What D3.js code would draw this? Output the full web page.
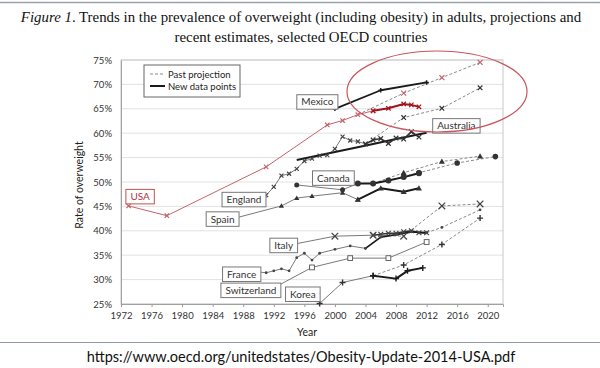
<!DOCTYPE html>
<html><head><meta charset="utf-8">
<script src="https://cdn.jsdelivr.net/npm/d3@7"></script>
<style>body{margin:0;background:#fff}svg{display:block}</style>
</head><body>
<svg id="c" width="600" height="368"></svg>
<script>
// ---- data (year, % overweight) ----
const xTicks = [1972,1976,1980,1984,1988,1992,1996,2000,2004,2008,2012,2016,2020];
const yTicks = [25,30,35,40,45,50,55,60,65,70,75];

const usaPast = [[1973,45.1],[1978,43.1],[1991,53.1],[1999,61.7],[2001,62.6],[2003,63.8],[2005,64.6]];
const usaNew  = [[2005,64.6],[2007,65.1],[2009,66.0],[2010,65.8],[2011,65.4]];
const usaProj = [[2003,63.8],[2009,68.2],[2014,71.4],[2019,74.5]];

const mexicoNew = [[2000,65.0],[2006,68.8],[2012,70.4]];

const englandPast = [[1991,47.3],[1992,49.0],[1993,51.3],[1994,51.7],[1995,52.7],[1996,54.3],[1997,54.8],[1998,55.4],[1999,55.5],[2000,56.8],[2001,59.3],[2002,58.5],[2003,58.3],[2004,57.8]];
const englandNew  = [[2004,57.8],[2005,58.6],[2006,58.9],[2007,57.9],[2008,59.0],[2009,58.8],[2010,60.3],[2011,59.2]];
const englandProj = [[2005,58.9],[2009,63.2],[2014,65.1],[2019,69.3]];

const australiaNew = [[1995,54.5],[2005,57.8],[2008,58.8],[2012,60.1]];

const canadaPast = [[1995,49.4],[2001,48.4],[2003,49.7]];
const canadaNew  = [[2003,49.7],[2005,49.7],[2007,50.3],[2009,51.0],[2011,51.8]];
const canadaProj = [[2007,50.3],[2011,51.9],[2016,53.9],[2021,55.2]];

const spainPast = [[1993,45.1],[1995,46.7],[1997,47.1],[2001,47.8],[2003,46.4]];
const spainNew  = [[2003,46.4],[2006,48.7],[2009,48.0],[2011,48.7]];
const spainProj = [[2005,49.7],[2009,51.9],[2014,54.2],[2019,55.3]];

const italyPast = [[2000,38.9],[2005,39.1]];
const italyNew  = [[2005,39.1],[2006,39.3],[2007,39.5],[2008,39.5],[2009,39.8],[2010,40.0],[2011,39.6],[2012,39.6]];
const italyProj = [[2005,39.1],[2009,38.9],[2014,45.1],[2019,45.5]];

const francePast = [[1991,31.4],[1992,31.8],[1993,32.2],[1994,31.8],[1995,34.5],[1996,35.4],[1997,34.0],[1998,35.4],[2000,36.2],[2002,36.9],[2004,36.4]];
const franceNew  = [[2004,36.4],[2006,38.7],[2008,39.2],[2010,39.8],[2012,39.6]];
const franceProj = [[2012,39.6],[2014,40.7],[2019,44.3]];

const switzerlandPast = [[1997,32.5],[2002,34.4],[2007,34.4],[2012,37.7]];

const koreaPast = [[1998,25.1],[2001,29.4],[2005,30.8]];
const koreaNew  = [[2005,30.8],[2008,30.2],[2009.5,31.8],[2011.5,32.4]];
const koreaProj = [[2005,30.8],[2009,33.0],[2014,37.2],[2019,42.6]];

// label annotations: [text, year, value] (box centre in data space)
const labels = [["USA",1974.5,47.0],["England",1988.1,46.4],["Spain",1985.3,42.4],["Italy",1993.3,37.0],
  ["France",1987.8,31.1],["Switzerland",1989.0,27.8],["Korea",1995.8,27.0],["Canada",1999.8,50.8],
  ["Mexico",1997.7,66.4],["Australia",2015.9,61.5]];

// ---- drawing ----
const svg = d3.select("#c");
const W = 600, H = 368;
const x = d3.scaleLinear([1972,2022],[121,503]);
const y = d3.scaleLinear([25,75],[304,60]);
const FONT = "Lato, 'Open Sans', sans-serif";
const SERIF = "'Liberation Serif', 'Times New Roman', serif";

function fit(sel, target){
  let fs = +sel.attr("font-size");
  const w = sel.node().getComputedTextLength();
  sel.attr("font-size", fs * target / w);
}

// top rule & separator
svg.append("line").attr("x1",0).attr("x2",W).attr("y1",2.5).attr("y2",2.5).attr("stroke","#9aa3ad").attr("stroke-width",1.5);
svg.append("line").attr("x1",0).attr("x2",W).attr("y1",342.5).attr("y2",342.5).attr("stroke","#8f9aa6").attr("stroke-width",1.2);

// title
const t = svg.append("text").attr("x",301).attr("y",22).attr("text-anchor","middle")
  .attr("font-family",SERIF).attr("font-size",16).attr("fill","#111");
t.append("tspan").attr("font-style","italic").text("Figure 1");
t.append("tspan").text(". Trends in the prevalence of overweight (including obesity) in adults, projections and");
fit(t, 561);
const t2 = svg.append("text").attr("x",301).attr("y",42).attr("text-anchor","middle")
  .attr("font-family",SERIF).attr("font-size",t.attr("font-size")).attr("fill","#111")
  .text("recent estimates, selected OECD countries");

// grid
svg.append("g").selectAll("line").data(yTicks).join("line")
  .attr("x1",x.range()[0]).attr("x2",x.range()[1]).attr("y1",d=>y(d)).attr("y2",d=>y(d))
  .attr("stroke","#e2e2e2").attr("stroke-width",1);
svg.append("rect").attr("x",121).attr("y",y(75)).attr("width",x(2022)-x(1972)).attr("height",y(25)-y(75))
  .attr("fill","none").attr("stroke","#c8c8c8");

// axes
const xa = svg.append("g").attr("transform",`translate(0,${y(25)})`)
  .call(d3.axisBottom(x).tickValues(xTicks).tickFormat(d3.format("d")).tickSize(3).tickPadding(5));
const ya = svg.append("g").attr("transform",`translate(${x(1972)},0)`)
  .call(d3.axisLeft(y).tickValues(yTicks).tickFormat(d=>d+"%").tickSize(0).tickPadding(9));
[xa,ya].forEach(g=>{
  g.selectAll("text").attr("font-family",FONT).attr("font-size",9.5).attr("fill","#333");
  g.selectAll("line").attr("stroke","#999");
  g.select(".domain").attr("stroke","#a0a0a0");
});
svg.append("text").attr("x",307).attr("y",336).attr("text-anchor","middle").attr("font-family",FONT)
  .attr("font-size",10.5).attr("fill","#222").text("Year");
svg.append("text").attr("transform","translate(83,185) rotate(-90)").attr("text-anchor","middle")
  .attr("font-family",FONT).attr("font-size",10.5).attr("fill","#222").text("Rate of overweight");

// layers
const gLead = svg.append("g");
const gData = svg.append("g");
const gMark = svg.append("g");
const gLab = svg.append("g");

// helpers
const line = d3.line().x(d=>x(d[0])).y(d=>y(d[1]));
function path(data, color, width, dash){
  gData.append("path").attr("d",line(data)).attr("fill","none").attr("stroke",color)
    .attr("stroke-width",width).attr("stroke-dasharray",dash||null).attr("stroke-linejoin","round");
}
function markers(data, type, color, size){
  const g = gMark.append("g");
  data.forEach(d=>{
    const cx = x(d[0]), cy = y(d[1]), s = size;
    if(type==="x"){
      g.append("path").attr("d",`M${cx-s},${cy-s}L${cx+s},${cy+s}M${cx-s},${cy+s}L${cx+s},${cy-s}`)
       .attr("stroke",color).attr("stroke-width",1.2).attr("fill","none");
    } else if(type==="plus"){
      g.append("path").attr("d",`M${cx-s},${cy}L${cx+s},${cy}M${cx},${cy-s}L${cx},${cy+s}`)
       .attr("stroke",color).attr("stroke-width",1.4).attr("fill","none");
    } else if(type==="circle"){
      g.append("circle").attr("cx",cx).attr("cy",cy).attr("r",s).attr("fill",color);
    } else if(type==="tri"){
      g.append("path").attr("d",`M${cx},${cy-s}L${cx+s},${cy+s*0.75}L${cx-s},${cy+s*0.75}Z`).attr("fill",color);
    } else if(type==="square"){
      g.append("rect").attr("x",cx-s).attr("y",cy-s).attr("width",2*s).attr("height",2*s)
       .attr("fill","#fff").attr("stroke",color).attr("stroke-width",0.9);
    }
  });
}
const GREY = "#7a7a7a", DARK = "#1a1a1a", PROJ = "#8a8a8a", DASH = "3,2";
const RED = "#c4646a", DRED = "#a3121c";

// projections
[usaProj,englandProj,canadaProj,spainProj,italyProj,franceProj,koreaProj].forEach(a=>path(a,PROJ,1,DASH));

// past/thin data
path(usaPast, RED, 1);
path(englandPast, GREY, 1);
path(canadaPast, GREY, 1);
path(spainPast, GREY, 1);
path(italyPast, GREY, 1);
path(francePast, GREY, 1);
path(switzerlandPast, GREY, 1);
path(koreaPast, GREY, 1);

// new data
path(australiaNew, DARK, 2);
path(mexicoNew, DARK, 1.8);
path(englandNew, "#333", 1.6);
path(canadaNew, DARK, 2);
path(spainNew, DARK, 2);
path(italyNew, "#333", 1.6);
path(franceNew, DARK, 1.8);
path(koreaNew, DARK, 2);
path(usaNew, DRED, 2);

// markers
markers(usaPast, "x", RED, 2.2);
markers(usaNew, "x", DRED, 2.2);
markers(usaProj.slice(1), "x", RED, 2.5);
markers(mexicoNew, "plus", DARK, 2.2);
markers(englandPast, "x", "#444", 2);
markers(englandNew, "x", "#333", 2.3);
markers(englandProj.slice(1), "x", "#333", 2.3);
markers(canadaPast, "circle", "#333", 2.5);
markers(canadaNew, "circle", "#333", 3);
markers(canadaProj.slice(1), "circle", "#333", 2.8);
markers(spainPast, "tri", "#333", 2.6);
markers(spainNew, "tri", "#333", 3);
markers(spainProj.slice(1), "tri", "#333", 3);
markers(italyPast, "x", "#444", 3.3);
markers(italyNew, "x", "#444", 2.4);
markers(italyProj.slice(1), "x", "#444", 3.3);
markers(francePast, "circle", "#444", 1.4);
markers(franceNew, "circle", "#444", 1.4);
markers(franceProj.slice(1), "circle", "#444", 1.4);
markers(switzerlandPast, "square", "#555", 2.4);
markers(koreaPast, "plus", "#333", 3);
markers(koreaNew, "plus", DARK, 3);
markers(koreaProj.slice(1), "plus", "#333", 3);

// label boxes
const firstPoint = {England: englandPast[0], Spain: spainPast[0], Italy: italyPast[0], France: francePast[0],
  Switzerland: switzerlandPast[0]};
labels.forEach(([name,yr,val])=>{
  const cx = x(yr), cy = y(val);
  const col = name==="USA" ? "#b8323c" : "#333";
  const g = gLab.append("g");
  const r = g.append("rect");
  const tx = g.append("text").attr("x",cx).attr("y",cy+3.5).attr("text-anchor","middle")
    .attr("font-family",FONT).attr("font-size",10).attr("fill",col).text(name);
  const w = tx.node().getComputedTextLength() + 9, h = 14.5;
  if(firstPoint[name]){
    const p = firstPoint[name];
    gLead.append("line").attr("x1",cx+w/2).attr("y1",name==="Switzerland"?cy-h/2+1:cy-2)
      .attr("x2",x(p[0])).attr("y2",y(p[1])).attr("stroke",GREY).attr("stroke-width",1);
  }
  r.attr("x",cx-w/2).attr("y",cy-h/2).attr("width",w).attr("height",h)
    .attr("fill","#fff").attr("stroke", name==="USA" ? "#c0504d" : "#777").attr("stroke-width",1);
});

// legend
const lg = svg.append("g");
lg.append("rect").attr("x",144).attr("y",65).attr("width",96).attr("height",32).attr("fill","#fff").attr("stroke","#666");
lg.append("line").attr("x1",150).attr("x2",165).attr("y1",74).attr("y2",74).attr("stroke",PROJ).attr("stroke-width",1.2).attr("stroke-dasharray","3,2");
lg.append("line").attr("x1",150).attr("x2",165).attr("y1",86).attr("y2",86).attr("stroke",DARK).attr("stroke-width",2);
lg.append("text").attr("x",168).attr("y",77.5).attr("font-family",FONT).attr("font-size",9.5).attr("fill","#222").text("Past projection");
lg.append("text").attr("x",168).attr("y",89.5).attr("font-family",FONT).attr("font-size",9.5).attr("fill","#222").text("New data points");

// highlight ellipse
svg.append("ellipse").attr("cx",437).attr("cy",91.5).attr("rx",90).attr("ry",40.5)
  .attr("fill","none").attr("stroke","#c9555c").attr("stroke-width",1.2);

// source
const src = svg.append("text").attr("x",301).attr("y",362).attr("text-anchor","middle").attr("font-family",FONT)
  .attr("font-size",14).attr("fill","#111").text("https://www.oecd.org/unitedstates/Obesity-Update-2014-USA.pdf");
fit(src, 429);
</script>
</body></html>
